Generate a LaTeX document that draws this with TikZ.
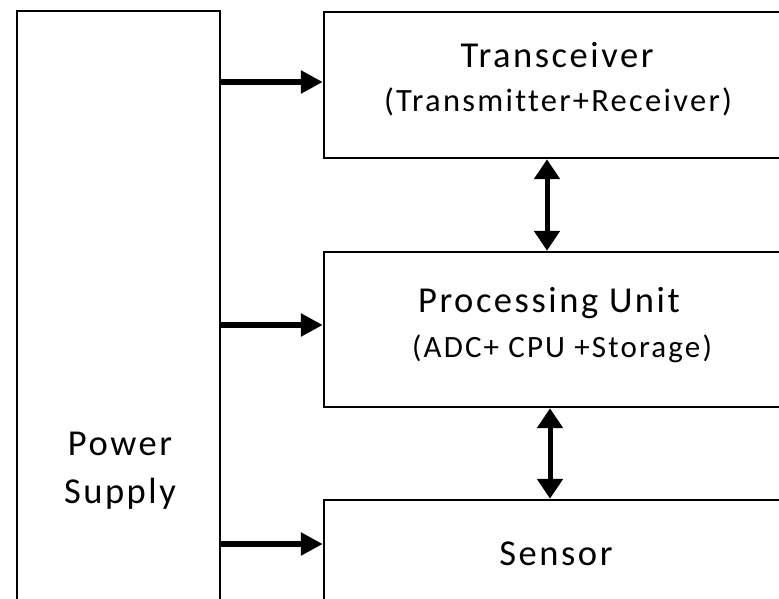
\documentclass[tikz,border=0pt]{standalone}
\usepackage{fontspec}
\setmainfont{Carlito}[LetterSpace=7,RawFeature=-liga]
\usetikzlibrary{arrows.meta}
\begin{document}
\begin{tikzpicture}[x=1pt,y=1pt,
  block/.style={draw=black,line width=2.4pt,fill=white,rectangle,inner sep=0pt},
  title/.style={anchor=base,font=\fontsize{36.5}{40}\selectfont,inner sep=0pt},
  sub/.style={anchor=base,font=\fontsize{31}{34}\selectfont,inner sep=0pt},
  feed/.style={line width=6pt,-{Triangle[length=22pt,width=22pt]}},
  link/.style={line width=5pt,{Triangle[length=20pt,width=25pt]}-{Triangle[length=20pt,width=25pt]}}]
\useasboundingbox (0,0) rectangle (779,-599);
\begin{scope}
\clip (0,0) rectangle (779,-599);
% blocks (right and bottom edges run past the frame)
\node[block,minimum width=203pt,minimum height=620pt] (ps) at (118.5,-321) {};
\node[block,minimum width=480pt,minimum height=146pt] (tr) at (564,-85) {};
\node[block,minimum width=480pt,minimum height=155pt] (pu) at (564,-329.5) {};
\node[block,minimum width=480pt,minimum height=160pt] (se) at (564,-580) {};
% labels
\node[title] (trt) at (557,-68) {Transceiver};
\node[sub,font=\fontsize{32.5}{36}\selectfont] (trs) at (558,-112) {(Transmitter+Receiver)};
\node[title] (put) at (549,-312) {Processing Unit};
\node[sub] (pus) at (562,-357) {(ADC+ CPU +Storage)};
\node[title] (set) at (556,-565) {Sensor};
\node[title] (pwa) at (120,-455) {Power};
\node[title] (pwb) at (120,-503) {Supply};
% feed lines from the power supply
\coordinate (f1) at (0,-82);
\coordinate (f2) at (0,-325);
\coordinate (f3) at (0,-544);
\draw[feed] (ps.east |- f1) -- (tr.west |- f1);
\draw[feed] (ps.east |- f2) -- (pu.west |- f2);
\draw[feed] (ps.east |- f3) -- (se.west |- f3);
% data links between the stacked blocks
\coordinate (l1) at (547,0);
\coordinate (l2) at (550,0);
\draw[link] (tr.south -| l1) -- (pu.north -| l1);
\draw[link] (pu.south -| l2) -- (se.north -| l2);
\end{scope}
\end{tikzpicture}
\end{document}
